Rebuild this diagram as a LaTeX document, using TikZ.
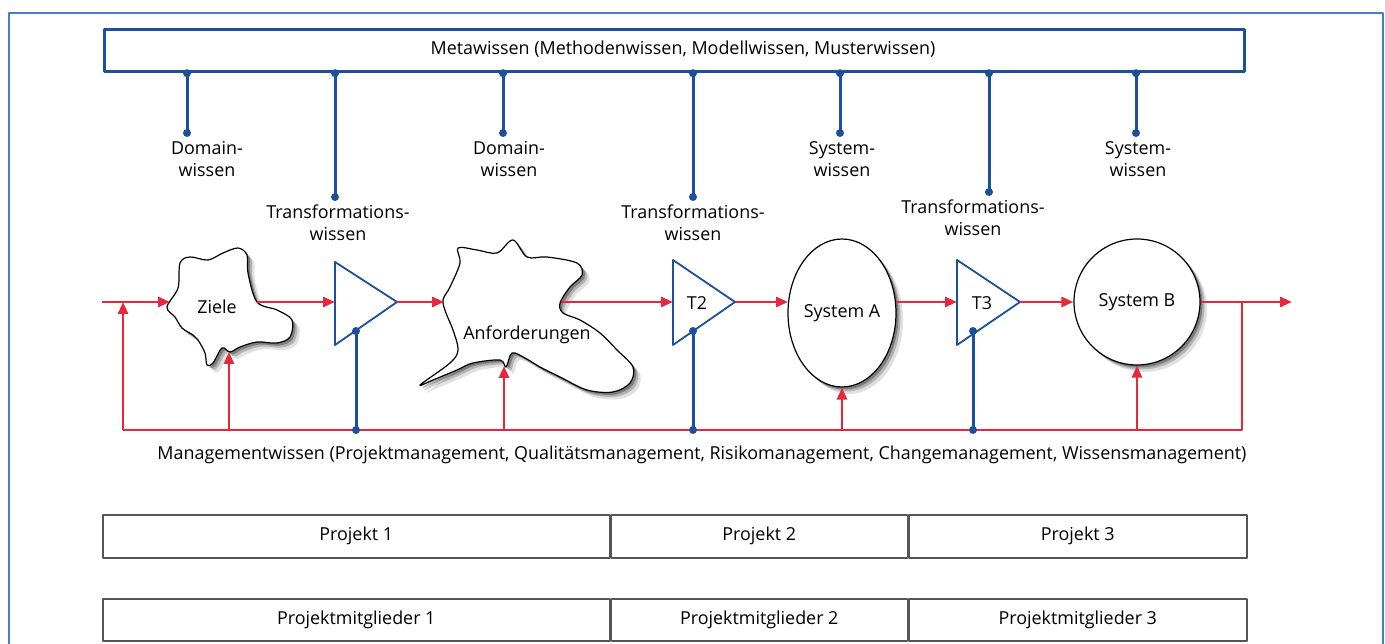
\documentclass[tikz,border=0pt]{standalone}
\usepackage{fontspec}
\setmainfont{Open Sans}
\usetikzlibrary{arrows.meta,shadows,shapes.geometric}
\definecolor{flowred}{HTML}{E5283A}
\definecolor{metablue}{HTML}{1C4F9C}
\definecolor{frameblue}{HTML}{4A7CC4}
\definecolor{cellgray}{HTML}{555555}

\begin{document}
\begin{tikzpicture}[x=1pt,y=-1pt,line join=round,
    txt/.style={font=\fontsize{17.9}{22}\selectfont,inner sep=0pt,align=center},
    flow/.style={draw=flowred,line width=2.8pt,-{Triangle[length=12pt,width=10pt]}},
    redline/.style={draw=flowred,line width=2.8pt},
    tap/.style={draw=metablue,line width=3pt},
    knot/.style={circle,fill=metablue,inner sep=0pt,minimum size=8pt},
    transf/.style={draw=metablue,line width=1.8pt,fill=white},
    blob/.style={draw=black,line width=1.2pt,fill=white,
      drop shadow={fill=black,opacity=0.12,shadow xshift=7pt,shadow yshift=-7pt},
      drop shadow={fill=black,opacity=0.2,shadow xshift=4.5pt,shadow yshift=-4.5pt},
      drop shadow={fill=black,opacity=0.3,shadow xshift=2.5pt,shadow yshift=-2.5pt}},
    cell/.style={draw=cellgray,line width=1.5pt,inner sep=0pt,anchor=north west,
      font=\fontsize{17.9}{22}\selectfont}]
  \useasboundingbox (0,0) rectangle (1385,644);
  \draw[frameblue,line width=1.6pt] (9,650)--(9,13)--(1383,13)--(1383,650);

  % Metawissen
  \node[draw=metablue,line width=3.2pt,minimum width=1140pt,minimum height=42pt,
    anchor=north west,inner sep=0pt] (meta) at (103,28) {};
  \node[txt] (metatxt) at (683,49) {Metawissen (Methodenwissen, Modellwissen, Musterwissen)};

  \coordinate (d1) at (187,133);
  \coordinate (tr1) at (335,197);
  \coordinate (d2) at (503,133);
  \coordinate (tr2) at (693,197);
  \coordinate (s1) at (840,133);
  \coordinate (tr3) at (989,192);
  \coordinate (s2) at (1136,133);
  \draw[tap] (meta.south -| d1) -- (d1);
  \draw[tap] (meta.south -| tr1) -- (tr1);
  \draw[tap] (meta.south -| d2) -- (d2);
  \draw[tap] (meta.south -| tr2) -- (tr2);
  \draw[tap] (meta.south -| s1) -- (s1);
  \draw[tap] (meta.south -| tr3) -- (tr3);
  \draw[tap] (meta.south -| s2) -- (s2);
  \foreach \p in {d1,tr1,d2,tr2,s1,tr3,s2}{
    \node[knot] at (meta.south -| \p) {};
    \node[knot] at (\p) {};
  }
  \node[txt,anchor=north] (ld1) at (207,141) {Domain-\\wissen};
  \node[txt,anchor=north] (ltr1) at (338,205) {Transformations-\\wissen};
  \node[txt,anchor=north] (ld2) at (509,141) {Domain-\\wissen};
  \node[txt,anchor=north] (ltr2) at (693,205) {Transformations-\\wissen};
  \node[txt,anchor=north] (ls1) at (842,141) {System-\\wissen};
  \node[txt,anchor=north] (ltr3) at (973,200) {Transformations-\\wissen};
  \node[txt,anchor=north] (ls2) at (1138,141) {System-\\wissen};

  % Rueckkopplung
  \coordinate (start) at (102,302);
  \coordinate (inL) at (123,302);
  \coordinate (fbL) at (123,430);
  \coordinate (outR) at (1242,302);
  \coordinate (fbR) at (1242,430);
  \coordinate (stop) at (1292,302);
  \draw[redline] (outR) -- (fbR) -- (fbL);
  \draw[flow] (fbL) -- (inL);

  % Ziele
  \path[blob] plot[smooth cycle,tension=0.55] coordinates {(167,307) (178,288) (180,263)
    (190,257) (208,260) (223,253) (238,248) (247,255) (248,273) (257,302) (277,310)
    (292,320) (290,337) (277,343) (257,342) (240,347) (230,352) (222,348) (213,363)
    (207,365) (205,353) (198,340) (193,335) (182,328) (175,317)};
  \node[txt] (ziele) at (217,307) {Ziele};
  \coordinate (zieleW) at (170,302);
  \coordinate (zieleE) at (257,302);
  \coordinate (zieleS) at (229,352);

  % Anforderungen
  \path[blob] plot[smooth cycle,tension=0.55] coordinates {(420,385) (450,363) (458,350)
    (453,330) (446,313) (443,300) (450,287) (460,263) (458,248) (477,250) (497,253)
    (513,240) (527,257) (547,257) (577,263) (582,275) (570,287) (560,303) (563,313)
    (580,320) (600,333) (617,350) (633,367) (630,383) (613,392) (587,390) (560,377)
    (540,367) (525,358) (512,353) (506,367) (500,360) (473,363) (457,370) (433,380)};
  \node[txt] (anf) at (527,335) {Anforderungen};
  \coordinate (anfW) at (444,302);
  \coordinate (anfE) at (561,302);
  \coordinate (anfS) at (504,366);

  % Transformationen
  \draw[transf] (335,262) -- (397,302) -- (335,345) -- cycle;
  \coordinate (t1W) at (335,302);
  \coordinate (t1E) at (397,302);
  \coordinate (t1S) at (356,331);
  \draw[transf] (673,260) -- (735,302) -- (673,345) -- cycle;
  \node[txt] (t2) at (697,303) {T2};
  \coordinate (t2W) at (673,302);
  \coordinate (t2E) at (735,302);
  \coordinate (t2S) at (693,331);
  \draw[transf] (957,260) -- (1020,302) -- (957,345) -- cycle;
  \node[txt] (t3) at (982,303) {T3};
  \coordinate (t3W) at (957,302);
  \coordinate (t3E) at (1020,302);
  \coordinate (t3S) at (973,331);

  % Systeme
  \node[blob,ellipse,minimum width=102pt,minimum height=148pt,inner sep=0pt,
    font=\fontsize{17.9}{22}\selectfont] (sysA) at (842,313) {System A};
  \node[blob,circle,minimum size=126pt,inner sep=0pt,
    font=\fontsize{17.9}{22}\selectfont] (sysB) at (1137,302) {System B};

  % Fluss
  \draw[flow] (start) -- (zieleW);
  \draw[flow] (zieleE) -- (t1W);
  \draw[flow] (t1E) -- (anfW);
  \draw[flow] (anfE) -- (t2W);
  \draw[flow] (t2E) -- (t2E -| sysA.168);
  \draw[flow] (t3W -| sysA.12) -- (t3W);
  \draw[flow] (t3E) -- (sysB.west);
  \draw[flow] (sysB.east) -- (stop);
  \draw[flow] (fbL -| zieleS) -- (zieleS);
  \draw[flow] (fbL -| anfS) -- (anfS);
  \draw[flow] (fbL -| sysA.south) -- (sysA.south);
  \draw[flow] (fbL -| sysB.south) -- (sysB.south);

  % Managementwissen
  \draw[tap] (t1S) -- (fbL -| t1S);
  \draw[tap] (t2S) -- (fbL -| t2S);
  \draw[tap] (t3S) -- (fbL -| t3S);
  \foreach \p in {t1S,t2S,t3S}{
    \node[knot] at (\p) {};
    \node[knot] at (fbL -| \p) {};
  }
  \node[txt] (mgmt) at (702,455) {Managementwissen (Projektmanagement, Qualitätsmanagement,
    Risikomanagement, Changemanagement, Wissensmanagement)};

  % Projekte
  \node[cell,minimum width=507pt,minimum height=43pt] (p1) at (102,514) {Projekt 1};
  \node[cell,minimum width=296pt,minimum height=43pt] (p2) at (p1.north east) {Projekt 2};
  \node[cell,minimum width=338pt,minimum height=43pt] (p3) at (p2.north east) {Projekt 3};
  \node[cell,minimum width=507pt,minimum height=42pt] (m1) at (102,598) {Projektmitglieder 1};
  \node[cell,minimum width=296pt,minimum height=42pt] (m2) at (m1.north east) {Projektmitglieder 2};
  \node[cell,minimum width=338pt,minimum height=42pt] (m3) at (m2.north east) {Projektmitglieder 3};
\end{tikzpicture}
\end{document}
